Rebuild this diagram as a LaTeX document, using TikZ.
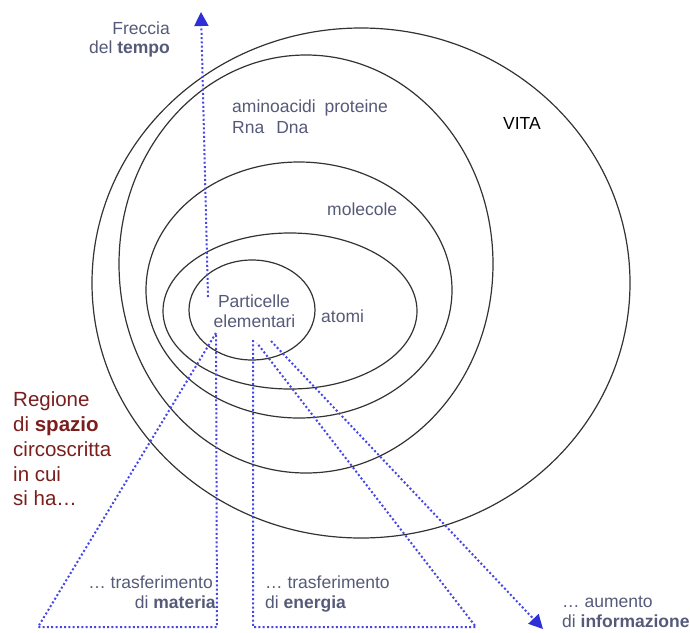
\documentclass[tikz,border=0pt]{standalone}
\usepackage{fontspec}
\setmainfont{Liberation Sans}
\usetikzlibrary{arrows.meta}
\definecolor{txtblue}{HTML}{555A78}
\definecolor{regred}{HTML}{7A1E1E}
\definecolor{dotblue}{HTML}{4646E6}
\definecolor{arrblue}{HTML}{2F2FD8}
\definecolor{ringgray}{HTML}{333333}
\tikzset{
  ring/.style={draw=ringgray, line width=1.2pt},
  dotline/.style={draw=dotblue, line width=2pt, dash pattern=on 2pt off 2.3pt},
  dotarrow/.style={dotline, -{Triangle[length=14pt,width=14pt,fill=arrblue,color=arrblue]}},
  lbl/.style={inner sep=0pt, text=txtblue, font=\fontsize{17.5}{20}\selectfont},
  reg/.style={inner sep=0pt, text=regred, font=\fontsize{20.5}{24}\selectfont, anchor=base west}
}
\begin{document}
\begin{tikzpicture}[x=1pt,y=-1pt]
\useasboundingbox (0,0) rectangle (690,632);
% rings
\draw[ring] (361,283) ellipse [x radius=269pt, y radius=255pt];
\draw[ring] (306,264) ellipse [x radius=187pt, y radius=209pt];
\draw[ring] (299,290) ellipse [x radius=153pt, y radius=128pt];
\draw[ring] (290,311) ellipse [x radius=127pt, y radius=78pt];
\draw[ring] (252,310) ellipse [x radius=63pt, y radius=50pt];
% coordinates
\coordinate (tb) at (208,297);
\coordinate (tt) at (201,12);
\coordinate (m1) at (216,333);
\coordinate (m2) at (38,627);
\coordinate (m3) at (217,627);
\coordinate (e1) at (253,340);
\coordinate (e2) at (253,627);
\coordinate (e3) at (476,627);
\coordinate (e4) at (257,343);
\coordinate (i1) at (271,341);
\coordinate (i2) at (543,629);
% dotted lines
\draw[dotarrow] (tb) -- (tt);
\draw[dotline] (m1) -- (m2) -- (m3) -- (m1);
\draw[dotline] (e1) -- (e2) -- (e3) -- (e4);
\draw[dotarrow] (i1) -- (i2);
% labels
\node[lbl, anchor=base east] (fr1) at (170,34) {Freccia};
\node[lbl, anchor=base east] (fr2) at (170,53) {del \textbf{tempo}};
\node[lbl, anchor=base west] (am1) at (232,112) {aminoacidi\hspace{4pt} proteine};
\node[lbl, anchor=base west] (am2) at (232,133) {Rna\hspace{12pt}Dna};
\node[lbl, anchor=base west, text=black] (vita) at (503,129) {VITA};
\node[lbl, anchor=base west] (mol) at (327,215) {molecole};
\node[lbl, anchor=base] (pa1) at (254,307) {Particelle};
\node[lbl, anchor=base] (pa2) at (254.5,327) {elementari};
\node[lbl, anchor=base west] (ato) at (321,322) {atomi};
\node[reg] (r1) at (13,406) {Regione};
\node[reg] (r2) at (13,431) {di \textbf{spazio}};
\node[reg] (r3) at (13,456) {circoscritta};
\node[reg] (r4) at (13,481) {in cui};
\node[reg] (r5) at (13,505) {si ha…};
\node[lbl, anchor=base east] (ma1) at (213,588) {… trasferimento};
\node[lbl, anchor=base east] (ma2) at (216,608) {di \textbf{materia}};
\node[lbl, anchor=base west] (en1) at (265,588) {… trasferimento};
\node[lbl, anchor=base west] (en2) at (265,608) {di \textbf{energia}};
\node[lbl, anchor=base west] (in1) at (562,607) {… aumento};
\node[lbl, anchor=base west] (in2) at (562,627) {di \textbf{informazione}};
\end{tikzpicture}
\end{document}
